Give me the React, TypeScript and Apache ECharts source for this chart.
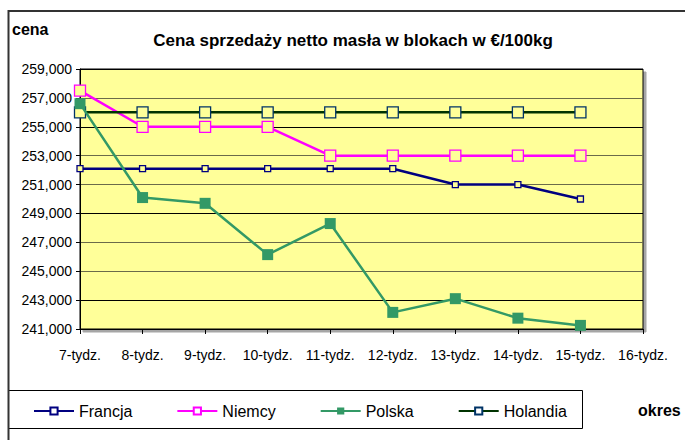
import React, { useEffect, useRef } from "react";
import * as echarts from "echarts";

const categories = ["7-tydz.", "8-tydz.", "9-tydz.", "10-tydz.", "11-tydz.", "12-tydz.", "13-tydz.", "14-tydz.", "15-tydz.", "16-tydz."];
const francja = [252100, 252100, 252100, 252100, 252100, 252100, 251000, 251000, 250000, null];
const niemcy = [257500, 255000, 255000, 255000, 253000, 253000, 253000, 253000, 253000, null];
const polska = [256600, 250100, 249700, 246150, 248300, 242150, 243100, 241750, 241250, null];
const holandia = [256000, 256000, 256000, 256000, 256000, 256000, 256000, 256000, 256000, null];
const yTicks = [241000, 243000, 245000, 247000, 249000, 251000, 253000, 255000, 257000, 259000];

const FONT = "'Liberation Sans', Arial, sans-serif";
const PLOT_BG = "#FFFF99";

export default function App() {
  const ref = useRef<HTMLDivElement>(null);
  useEffect(() => {
    if (!ref.current) return;
    const chart = echarts.init(ref.current, null, { renderer: "svg" });
    const gridColors = yTicks.map((v, i) => (i % 3 === 1 || i === 0 || i === yTicks.length - 1 ? "#000000" : "#6b6b4a"));
    const mk = (name: string, data: any[], lineColor: string, markColor: string, size: number, filled: boolean, z: number) => ({
      name,
      type: "line",
      data,
      z,
      symbol: "rect",
      symbolSize: size,
      showAllSymbol: true,
      lineStyle: { color: lineColor, width: 2.5 },
      itemStyle: {
        color: filled ? markColor : PLOT_BG,
        borderColor: markColor,
        borderWidth: filled ? 0 : 1.3,
      },
    });
    chart.setOption({
      animation: false,
      backgroundColor: "#ffffff",
      textStyle: { fontFamily: FONT },
      title: {
        text: "Cena sprzedaży netto masła w blokach w €/100kg",
        left: 348,
        textAlign: "center",
        top: 27,
        textStyle: { fontSize: 17, fontWeight: "bold", color: "#000", fontFamily: FONT },
      },
      grid: {
        left: 80,
        right: 42,
        top: 69,
        bottom: 111,
        show: true,
        backgroundColor: PLOT_BG,
        borderColor: "#000",
        borderWidth: 1,
        shadowColor: "rgba(0,0,0,0.35)",
        shadowOffsetX: 3,
        shadowOffsetY: 3,
        shadowBlur: 0,
      },
      legend: {
        left: 28,
        top: 398,
        itemWidth: 40,
        itemHeight: 9,
        itemGap: 44,
        textStyle: { fontSize: 16, color: "#000", fontFamily: FONT },
        data: [
          { name: "Francja", itemStyle: { color: "#fff" } },
          { name: "Niemcy", itemStyle: { color: "#fff" } },
          { name: "Polska" },
          { name: "Holandia", itemStyle: { color: "#fff" } },
        ],
      },
      xAxis: {
        type: "category",
        data: categories,
        boundaryGap: false,
        axisLine: { lineStyle: { color: "#000", width: 1 } },
        axisTick: { show: true, inside: false, length: 5, lineStyle: { color: "#000" } },
        axisLabel: { color: "#000", fontSize: 14, margin: 19, interval: 0, fontFamily: FONT },
        splitLine: { show: false },
      },
      yAxis: {
        type: "value",
        min: 241000,
        max: 259000,
        interval: 1000,
        axisLine: { show: true, lineStyle: { color: "#000", width: 1 } },
        axisTick: { show: true, inside: false, length: 4, lineStyle: { color: "#000" }, customValues: yTicks },
        axisLabel: {
          color: "#000",
          fontSize: 14,
          margin: 8,
          fontFamily: FONT,
          customValues: yTicks,
          formatter: (v: number) => v.toLocaleString("en-US"),
        },
        splitLine: { show: true, lineStyle: { color: gridColors, width: 1 } },
      },
      series: [
        mk("Francja", francja, "#000080", "#000080", 6, false, 2),
        mk("Niemcy", niemcy, "#FF00FF", "#FF00FF", 11, false, 2),
        mk("Polska", polska, "#339966", "#339966", 11, true, 3),
        mk("Holandia", holandia, "#003300", "#003366", 11, false, 2),
      ],
      graphic: [
        {
          type: "polyline",
          shape: { points: [[685, 11], [8.5, 11], [8.5, 440]] },
          style: { stroke: "#333", lineWidth: 2, fill: "none" },
          silent: true,
        },
        {
          type: "rect",
          shape: { x: 8.5, y: 390.5, width: 574, height: 38 },
          style: { stroke: "#000", lineWidth: 1, fill: "none" },
          silent: true,
          z: -1,
        },
        {
          type: "text",
          left: 12,
          top: 21,
          style: { text: "cena", fontSize: 16, fontWeight: "bold", fill: "#000", fontFamily: FONT },
        },
        {
          type: "text",
          left: 638,
          top: 402,
          style: { text: "okres", fontSize: 16, fontWeight: "bold", fill: "#000", fontFamily: FONT },
        },
      ],
    });
    return () => chart.dispose();
  }, []);
  return <div ref={ref} style={{ width: 685, height: 440, position: "absolute", left: 0, top: 0 }} />;
}
